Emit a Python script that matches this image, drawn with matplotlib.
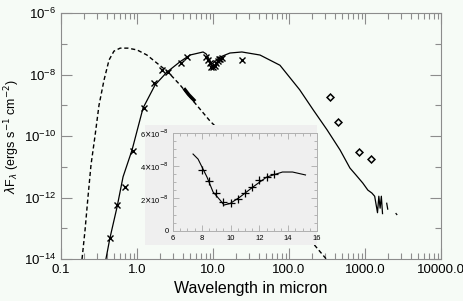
import matplotlib
matplotlib.use("Agg")
import matplotlib.pyplot as plt
from matplotlib.patches import Rectangle
from matplotlib.ticker import FixedLocator, LogLocator, NullFormatter, FixedFormatter

plt.rcParams['font.family'] = ['Liberation Sans', 'DejaVu Sans']

# stellar photosphere model (dashed)
star_wl = [0.189, 0.207, 0.226, 0.248, 0.28, 0.316, 0.368, 0.428, 0.497, 0.60, 0.76,
           1.0, 1.35, 1.89, 2.56, 3.68, 5.8, 9.1, 12.4, 56, 309]
star_fl = [1e-14, 8.7e-14, 1e-12, 1.15e-11, 1e-10, 1.0e-9, 6.6e-9, 2.95e-8, 5.75e-8, 7.2e-8, 7.2e-8,
           6.3e-8, 4.3e-8, 2.2e-8, 1.2e-8, 4.6e-9, 1.17e-9, 3.1e-10, 1.45e-10, 1.5e-12, 1e-14]

# photospheric spectrum segment
spec_wl = [4.27, 4.8, 5.6]
spec_fl = [3.2e-9, 2.2e-9, 1.48e-9]

# disk model (solid)
disk_wl = [0.39, 0.44, 0.546, 0.655, 0.86, 1.2, 1.73, 2.48, 3.68, 4.98, 7.4, 8.1, 9.7,
           12.4, 16.7, 24, 41.5, 76, 138, 208, 316, 470, 633, 760, 935, 1090, 1230,
           1340, 1460, 1520, 1580, 1640, 1700]
disk_fl = [1e-14, 4.8e-14, 4.9e-13, 4.7e-12, 3.5e-11, 8.1e-10, 4.6e-9, 1.2e-8, 2.6e-8,
           4.3e-8, 5.4e-8, 4.7e-8, 2.2e-8, 3.7e-8, 5.0e-8, 5.4e-8, 4.3e-8, 2.0e-8,
           3.2e-9, 7.1e-10, 1.6e-10, 3.5e-11, 9.1e-12, 5.4e-12, 2.95e-12, 1.74e-12,
           1.4e-12, 1.1e-12, 3.2e-13, 1.1e-12, 4.5e-13, 1.1e-12, 3.0e-13]
tail1_wl = [1930, 1990]
tail1_fl = [6.5e-13, 4.2e-13]
tail2_wl = [2560, 2620]
tail2_fl = [3.0e-13, 2.8e-13]

# photometry (crosses)
phot_wl = [0.44, 0.546, 0.69, 0.89, 1.24, 1.67, 2.13, 2.56, 3.79, 4.55, 24]
phot_fl = [4.8e-14, 5.8e-13, 2.2e-12, 3.2e-11, 8.1e-10, 5.2e-9, 1.4e-8, 1.2e-8, 2.3e-8, 3.7e-8, 2.95e-8]

# mm / submm points (diamonds)
mm_wl = [345, 442, 830, 1200]
mm_fl = [1.86e-9, 2.9e-10, 3.0e-11, 1.78e-11]

# mid-IR spectrophotometry (inset + main)
mir_wl = [8.0, 8.5, 9.0, 9.5, 10.0, 10.5, 11.0, 11.5, 12.0, 12.5, 13.0]
mir_fl = [3.74e-8, 3.06e-8, 2.33e-8, 1.78e-8, 1.72e-8, 1.96e-8, 2.33e-8, 2.7e-8, 3.12e-8, 3.3e-8, 3.5e-8]

# inset model
ins_wl = [7.39, 7.74, 8.36, 8.78, 9.26, 9.54, 9.96, 10.65, 11.56, 12.5, 13.6, 14.3, 15.2]
ins_fl = [4.71e-8, 4.4e-8, 3.3e-8, 2.39e-8, 1.9e-8, 1.59e-8, 1.68e-8, 2.08e-8, 2.7e-8, 3.3e-8, 3.61e-8, 3.61e-8, 3.43e-8]

bg = '#f6fbf6'
gc = '#8c8c8c'
fig = plt.figure(figsize=(4.63, 3.01), dpi=100, facecolor=bg)
ax = fig.add_axes([0.1318, 0.1395, 0.8207, 0.8173], facecolor=bg)

ax.plot(star_wl, star_fl, color='black', lw=1.0, ls=(0, (3, 2)))
ax.plot(spec_wl, spec_fl, color='black', lw=2.5)
ax.plot(disk_wl, disk_fl, color='black', lw=0.9)
ax.plot(tail1_wl, tail1_fl, color='black', lw=0.9)
ax.plot(tail2_wl, tail2_fl, color='black', lw=0.9)
ax.plot(phot_wl, phot_fl, 'x', color='black', ms=5, mew=1.0)
ax.plot(mir_wl, mir_fl, 'x', color='black', ms=5, mew=1.0)
ax.plot(mm_wl, mm_fl, 'D', mfc='none', mec='black', ms=3.5, mew=1.1)

ax.set_xscale('log')
ax.set_yscale('log')
ax.set_xlim(0.1, 10000)
ax.set_ylim(1e-14, 1e-6)
ax.set_xticks([0.1, 1, 10, 100, 1000, 10000])
ax.set_xticklabels(['0.1', '1.0', '10.0', '100.0', '1000.0', '10000.0'])
ax.xaxis.set_minor_locator(LogLocator(base=10, subs=range(2, 10)))
ax.xaxis.set_minor_formatter(NullFormatter())
ax.yaxis.set_major_locator(FixedLocator([1e-14, 1e-12, 1e-10, 1e-8, 1e-6]))
ax.yaxis.set_minor_locator(FixedLocator([1e-13, 1e-11, 1e-9, 1e-7]))
ax.yaxis.set_minor_formatter(NullFormatter())
ax.tick_params(which='both', direction='in', top=True, right=True, colors=gc,
               labelcolor='black', labelsize=9.5)
ax.tick_params(which='major', length=8, width=0.8)
ax.tick_params(axis='x', which='minor', length=4, width=0.8)
ax.tick_params(axis='y', which='minor', length=4, width=0.8)
for s in ax.spines.values():
    s.set_color(gc)
ax.set_xlabel('Wavelength in micron', fontsize=11.5)
ax.set_ylabel(r'$\lambda$F$_\lambda$ (ergs s$^{-1}$ cm$^{-2}$)', fontsize=9)
ax.yaxis.set_label_coords(-0.103, 0.5)

# grey inset panel
fig.add_artist(Rectangle((0.313, 0.186), 0.3715, 0.399, transform=fig.transFigure,
                         facecolor='#efefef', edgecolor='none', zorder=2))
ins = fig.add_axes([0.3737, 0.2326, 0.311, 0.3256], facecolor='#efefef', zorder=3)
ins.plot(ins_wl, ins_fl, color='black', lw=0.8)
ins.plot(mir_wl, mir_fl, '+', color='black', ms=6, mew=0.9)
ins.set_xlim(6, 16)
ins.set_ylim(0, 6e-8)
ins.set_xticks([6, 8, 10, 12, 14, 16])
ins.set_xticks([6.5 + 0.5 * i for i in range(19) if (6.5 + 0.5 * i) % 2 != 0], minor=True)
ins.set_yticks([0, 2e-8, 4e-8, 6e-8])
ins.yaxis.set_major_formatter(FixedFormatter(['0', r'2$\times$10$^{-8}$', r'4$\times$10$^{-8}$', r'6$\times$10$^{-8}$']))
ins.set_yticks([0.5e-8 * i for i in range(13) if i % 4 != 0], minor=True)
ins.tick_params(which='both', direction='in', top=True, right=True, colors='#aaaaaa',
                labelcolor='black', labelsize=5.5, pad=3)
ins.tick_params(which='major', length=4, width=0.6)
ins.tick_params(which='minor', length=2, width=0.6)
for s in ins.spines.values():
    s.set_color('#b0b0b0')
    s.set_linewidth(0.7)

fig.savefig('out.png', dpi=100, facecolor=bg)
